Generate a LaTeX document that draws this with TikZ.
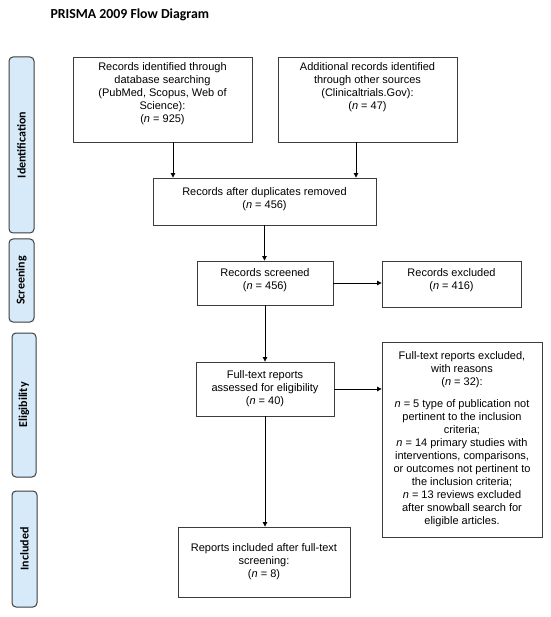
\documentclass[tikz,border=0pt]{standalone}
\usepackage{fontspec}
\setmainfont{Liberation Sans}
\newfontfamily\calib{Carlito}
\usetikzlibrary{arrows.meta,calc}
\definecolor{sidefill}{RGB}{214,234,250}
\definecolor{boxline}{RGB}{60,60,60}
\tikzset{
  box/.style={draw=boxline,line width=0.9pt,fill=white,align=center,inner sep=2pt,
    font=\fontsize{11}{13}\selectfont},
  side/.style={draw=boxline,line width=1pt,fill=sidefill,rounded corners=4pt,rotate=90,
    inner sep=0pt,font=\calib\bfseries\fontsize{12}{14}\selectfont},
  arr/.style={-{Triangle[length=4.5pt,width=4.5pt]},line width=0.8pt,black}
}
\begin{document}
\begin{tikzpicture}[x=1pt,y=-1pt]
\useasboundingbox (0,0) rectangle (550,617);
\node[anchor=base west,font=\calib\bfseries\fontsize{13.8}{16}\selectfont] (title) at (47,19) {PRISMA 2009 Flow Diagram};
% side labels
\node[side,minimum width=176,minimum height=25] (sid) at (21.5,145) {Identification};
\node[side,minimum width=83,minimum height=25] (ssc) at (21.5,280.5) {Screening};
\node[side,minimum width=144,minimum height=24] (sel) at (24,405) {Eligibility};
\node[side,minimum width=116,minimum height=25] (sin) at (24.5,549) {Included};
% boxes
\node[box,minimum width=179,minimum height=85] (b1) at (162.5,99.5)
  {\parbox[c][79pt][t]{170pt}{\centering\vspace*{3pt}Records identified through\\database searching\\(PubMed, Scopus, Web of\\Science):\\(\textit{n} = 925)}};
\node[box,minimum width=179,minimum height=85] (b2) at (367.5,99.5)
  {\parbox[c][79pt][t]{170pt}{\centering\vspace*{3pt}Additional records identified\\through other sources\\(Clinicaltrials.Gov):\\(\textit{n} = 47)}};
\node[box,minimum width=223,minimum height=47] (b3) at (264.5,201.5)
  {Records after duplicates removed\\(\textit{n} = 456)\\[-6pt]\mbox{}};
\node[box,minimum width=136,minimum height=44] (b4) at (265,283)
  {Records screened\\(\textit{n} = 456)\\[-6pt]\mbox{}};
\node[box,minimum width=139,minimum height=46] (b5) at (451.5,284)
  {Records excluded\\(\textit{n} = 416)\\[-4pt]\mbox{}};
\node[box,minimum width=138,minimum height=54] (b6) at (265,389)
  {Full-text reports\\assessed for eligibility\\(\textit{n} = 40)};
\node[box,minimum width=160,minimum height=195] (b7) at (462,439.5)
  {Full-text reports excluded,\\with reasons\\(\textit{n} = 32):\\[9pt]
   \textit{n} = 5 type of publication not\\pertinent to the inclusion\\criteria;\\
   \textit{n} = 14 primary studies with\\interventions, comparisons,\\or outcomes not pertinent to\\the inclusion criteria;\\
   \textit{n} = 13 reviews excluded\\after snowball search for\\eligible articles.};
\node[box,minimum width=172,minimum height=70] (b8) at (264,562)
  {Reports included after full-text\\screening:\\(\textit{n} = 8)};
% arrows
\draw[arr] ([xshift=10.5pt]b1.south) -- ([xshift=10.5pt]b1.south |- b3.north);
\draw[arr] ([xshift=-11.5pt]b2.south) -- ([xshift=-11.5pt]b2.south |- b3.north);
\draw[arr] (b3.south) -- (b3.south |- b4.north);
\draw[arr] (b4.east) -- (b4.east -| b5.west);
\draw[arr] (b4.south) -- (b4.south |- b6.north);
\draw[arr] (b6.east) -- (b6.east -| b7.west);
\draw[arr] (b6.south) -- (b6.south |- b8.north);
\end{tikzpicture}
\end{document}
